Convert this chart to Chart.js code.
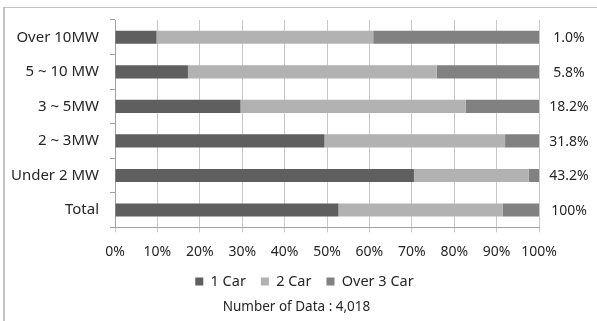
<!DOCTYPE html>
<html>
<head>
<meta charset="utf-8">
<script src="https://cdn.jsdelivr.net/npm/chart.js@4.4.1/dist/chart.umd.min.js"></script>
<style>
  html, body { margin: 0; padding: 0; background: #ffffff; }
  #wrap { width: 597px; height: 321px; position: relative; }
</style>
</head>
<body>
<div id="wrap"><canvas id="chart" width="597" height="321"></canvas></div>
<script>
// Capacity classes (top to bottom)
const categories = ['Over 10MW', '5 ~ 10 MW', '3 ~ 5MW', '2 ~ 3MW', 'Under 2 MW', 'Total'];
// Share of sites by number of cars (%)
const oneCar = [9.8, 17.2, 29.6, 49.4, 70.5, 52.7];
const twoCar = [51.1, 58.7, 53.1, 42.6, 27.1, 38.7];
const overThreeCar = [39.1, 24.1, 17.3, 8.0, 2.4, 8.6];
// Share of all data in each capacity class
const classShare = ['1.0%', '5.8%', '18.2%', '31.8%', '43.2%', '100%'];
const xTicks = [0, 10, 20, 30, 40, 50, 60, 70, 80, 90, 100];
const dataNote = 'Number of Data : 4,018';

const FONT = "'Noto Sans', 'Open Sans', sans-serif";
const TEXT = '#262626';

// Frame lines along the top and left of the figure
const framePlugin = {
  id: 'frame',
  beforeDraw(chart) {
    const ctx = chart.ctx;
    ctx.save();
    ctx.fillStyle = '#ffffff';
    ctx.fillRect(0, 0, chart.width, chart.height);
    ctx.strokeStyle = '#c3c3c3';
    ctx.lineWidth = 1;
    ctx.beginPath();
    ctx.moveTo(3, 7.5);
    ctx.lineTo(chart.width, 7.5);
    ctx.stroke();
    ctx.lineWidth = 2;
    ctx.beginPath();
    ctx.moveTo(4, 7);
    ctx.lineTo(4, chart.height);
    ctx.stroke();
    ctx.restore();
  }
};

// Nudge the bottom legend and note to sit under the plot rather than the canvas
const footerShiftPlugin = {
  id: 'footerShift',
  afterLayout(chart) {
    chart.boxes.forEach(box => {
      let dx = 0;
      if (box === chart.legend) dx = 35;
      else if (box.options && box.options.text === dataNote) dx = 27;
      if (dx) { box.left += dx; box.right += dx; }
    });
  }
};

// Class share written to the right of each bar
const sharePlugin = {
  id: 'shareLabels',
  afterDatasetsDraw(chart) {
    const ctx = chart.ctx;
    const yScale = chart.scales.y;
    ctx.save();
    ctx.font = '14px ' + FONT;
    ctx.fillStyle = TEXT;
    ctx.textAlign = 'center';
    ctx.textBaseline = 'middle';
    classShare.forEach((txt, i) => {
      ctx.fillText(txt, 569, yScale.getPixelForValue(i) + 1);
    });
    ctx.restore();
  }
};

new Chart(document.getElementById('chart'), {
  type: 'bar',
  data: {
    labels: categories,
    datasets: [
      { label: '1 Car', data: oneCar, backgroundColor: '#5f5f5f' },
      { label: '2 Car', data: twoCar, backgroundColor: '#b2b2b2' },
      { label: 'Over 3 Car', data: overThreeCar, backgroundColor: '#818181' }
    ]
  },
  options: {
    indexAxis: 'y',
    responsive: false,
    animation: false,
    devicePixelRatio: 1,
    layout: { padding: { top: 19, right: 58, left: 0, bottom: 0 } },
    datasets: {
      bar: { categoryPercentage: 1.0, barPercentage: 0.38, borderWidth: 0 }
    },
    scales: {
      x: {
        stacked: true,
        min: 0,
        max: 100,
        afterBuildTicks(scale) {
          scale.ticks = xTicks.map(v => ({ value: v }));
        },
        afterFit(scale) { scale.height = 32; },
        ticks: {
          callback: v => v + '%',
          color: TEXT,
          font: { family: FONT, size: 14 },
          padding: 11,
          maxRotation: 0,
          autoSkip: false
        },
        grid: { color: '#c8c8c8', lineWidth: 1, tickLength: 5 },
        border: { color: '#a0a0a0' }
      },
      y: {
        stacked: true,
        afterFit(scale) { scale.width = 115; },
        ticks: {
          color: TEXT,
          font: { family: FONT, size: 15 },
          padding: 11
        },
        grid: { offset: true, drawOnChartArea: false, color: '#a0a0a0', tickLength: 5 },
        border: { color: '#a0a0a0' }
      }
    },
    plugins: {
      legend: {
        position: 'bottom',
        labels: {
          boxWidth: 8,
          boxHeight: 8,
          padding: 15,
          color: TEXT,
          font: { family: FONT, size: 14.5 }
        }
      },
      subtitle: {
        display: true,
        text: dataNote,
        position: 'bottom',
        color: TEXT,
        font: { family: FONT, size: 13.5, weight: 'normal' },
        padding: { top: 0, bottom: 6 }
      },
      tooltip: { enabled: false }
    }
  },
  plugins: [framePlugin, footerShiftPlugin, sharePlugin]
});
</script>
</body>
</html>
